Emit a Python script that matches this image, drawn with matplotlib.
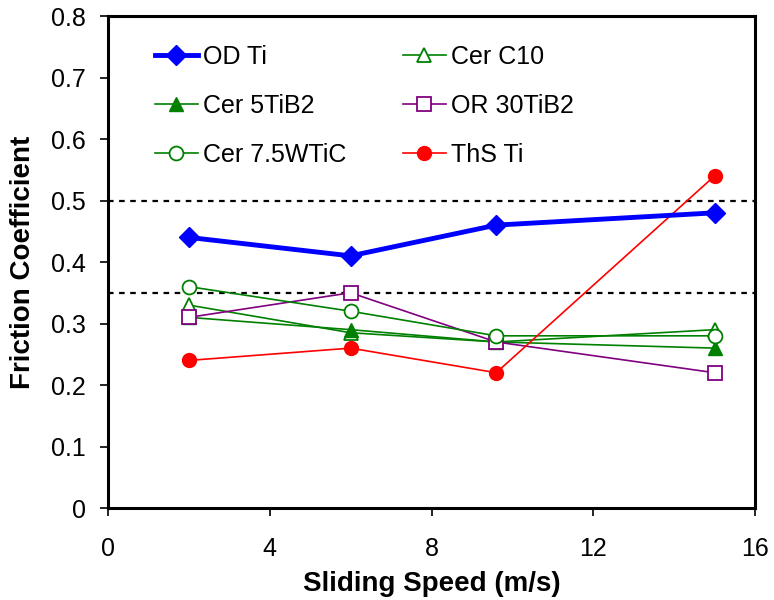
import matplotlib
matplotlib.use("Agg")
import matplotlib.pyplot as plt
from matplotlib.legend import Legend

speed = [2, 6, 9.6, 15]
od_ti = [0.44, 0.41, 0.46, 0.48]
cer_c10 = [0.33, 0.285, 0.27, 0.29]
cer_5tib2 = [0.31, 0.29, 0.27, 0.26]
or_30tib2 = [0.31, 0.35, 0.27, 0.22]
cer_75wtic = [0.36, 0.32, 0.28, 0.28]
ths_ti = [0.24, 0.26, 0.22, 0.54]
ref_lines = [0.5, 0.35]
xticks = [0, 4, 8, 12, 16]
yticks = [0, 0.1, 0.2, 0.3, 0.4, 0.5, 0.6, 0.7, 0.8]
ytick_labels = ['0', '0.1', '0.2', '0.3', '0.4', '0.5', '0.6', '0.7', '0.8']

plt.rcParams['font.family'] = ['Liberation Sans', 'DejaVu Sans']
fig = plt.figure(figsize=(7.74, 6.0), dpi=100)
ax = fig.add_axes([0.1395, 0.1533, 0.836, 0.82])

green = '#008000'
h_od, = ax.plot(speed, od_ti, color='#0000FF', lw=3.5, marker='D', ms=10, label='OD Ti', zorder=5)
h_c10, = ax.plot(speed, cer_c10, color=green, lw=1.2, marker='^', ms=10, mfc='white', mec=green, mew=1.3, label='Cer C10', zorder=4)
h_5t, = ax.plot(speed, cer_5tib2, color=green, lw=1.2, marker='^', ms=10, mfc=green, mec=green, label='Cer 5TiB2', zorder=4)
h_or, = ax.plot(speed, or_30tib2, color='#800080', lw=1.2, marker='s', ms=10, mfc='white', mec='#800080', mew=1.3, label='OR 30TiB2', zorder=4)
h_wt, = ax.plot(speed, cer_75wtic, color=green, lw=1.2, marker='o', ms=10, mfc='white', mec=green, mew=1.3, label='Cer 7.5WTiC', zorder=4)
h_ths, = ax.plot(speed, ths_ti, color='#FF0000', lw=1.2, marker='o', ms=10, mfc='#FF0000', mec='#FF0000', label='ThS Ti', zorder=4)

for y in ref_lines:
    ax.axhline(y, color='black', lw=1.6, ls=(0, (2.5, 2.5)), zorder=1)

ax.set_xlim(0, 16)
ax.set_ylim(0, 0.8)
ax.set_xticks(xticks)
ax.set_yticks(yticks)
ax.set_yticklabels(ytick_labels)
ax.tick_params(axis='both', labelsize=18, direction='out', length=6, width=1.2)
ax.tick_params(axis='x', pad=15)
ax.tick_params(axis='y', pad=10)
for s in ax.spines.values():
    s.set_linewidth(2.2)
ax.set_xlabel('Sliding Speed (m/s)', fontsize=20, fontweight='bold')
ax.set_ylabel('Friction Coefficient', fontsize=20, fontweight='bold')
ax.xaxis.set_label_coords(0.5, -0.128)
ax.yaxis.set_label_coords(-0.111, 0.5)

leg_font = {'family': 'Liberation Sans', 'size': 18}
common = dict(loc='upper left', frameon=False, prop=leg_font, handlelength=1.72,
              handletextpad=0.2, labelspacing=1.0, borderpad=0, borderaxespad=0)
leg1 = Legend(ax, [h_od, h_5t, h_wt], ['OD Ti', 'Cer 5TiB2', 'Cer 7.5WTiC'],
              bbox_to_anchor=(0.0726, 0.941), **common)
leg2 = Legend(ax, [h_c10, h_or, h_ths], ['Cer C10', 'OR 30TiB2', 'ThS Ti'],
              bbox_to_anchor=(0.4555, 0.941), **common)
ax.add_artist(leg1)
ax.add_artist(leg2)

fig.savefig('out.png', dpi=100)
